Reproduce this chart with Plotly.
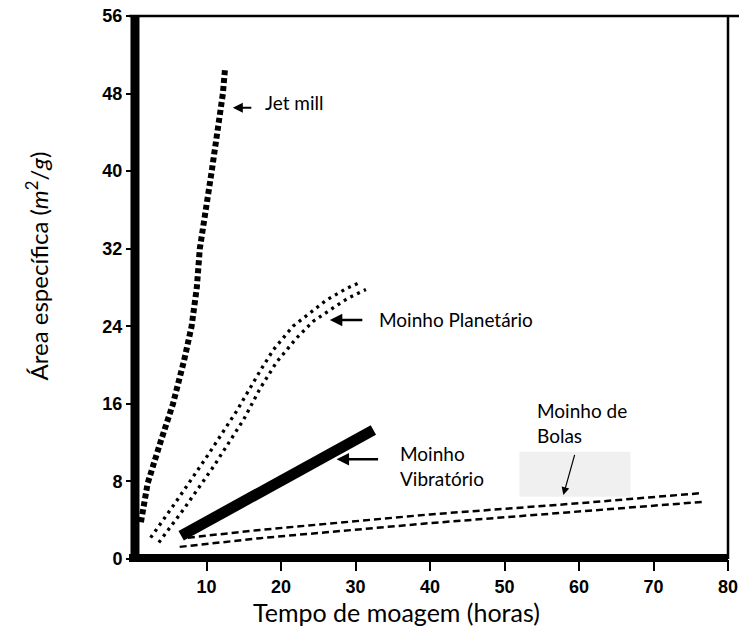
import plotly.graph_objects as go

# ---- data ----
jet_x = [1.2, 2.1, 3.8, 5.5, 7.0, 8.0, 8.7, 9.1, 10.7, 12.2, 12.5]
jet_y = [3.8, 7.8, 12.0, 16.0, 20.5, 24.0, 28.0, 32.0, 40.0, 48.0, 50.7]

plan1_x = [2.5, 6.0, 10.0, 14.0, 17.2, 19.0, 21.6, 23.9, 26.1, 28.8, 30.8]
plan1_y = [2.2, 6.0, 10.5, 15.2, 19.4, 21.6, 24.0, 25.4, 26.7, 27.9, 28.6]
plan2_x = [3.6, 7.0, 11.0, 15.0, 17.2, 19.4, 22.1, 24.3, 27.0, 29.0, 31.4]
plan2_y = [1.7, 5.2, 9.6, 14.4, 17.6, 20.3, 22.8, 24.5, 25.9, 26.9, 27.8]

vib_x = [6.6, 32.4]
vib_y = [2.4, 13.3]

ball1_x = [7.5, 17.2, 40.0, 60.0, 76.5]
ball1_y = [2.2, 3.0, 4.6, 5.75, 6.8]
ball2_x = [6.4, 17.2, 40.0, 60.0, 76.7]
ball2_y = [1.25, 2.15, 3.7, 4.9, 5.9]

x_ticks = [10, 20, 30, 40, 50, 60, 70, 80]
y_ticks = [0, 8, 16, 24, 32, 40, 48, 56]

x_title = "Tempo de moagem (horas)"
y_title = "Área específica (<i>m</i><sup>2</sup>/<i>g</i>)"

fig = go.Figure()

def add_line(x, y, width, dash):
    fig.add_trace(go.Scatter(x=x, y=y, mode="lines",
                             line=dict(color="black", width=width, dash=dash),
                             showlegend=False, hoverinfo="skip"))

add_line(ball1_x, ball1_y, 2.5, "7px,4px")
add_line(ball2_x, ball2_y, 2.5, "7px,4px")
add_line(plan1_x, plan1_y, 3.3, "3px,4.5px")
add_line(plan2_x, plan2_y, 3.3, "3px,4.5px")
add_line(vib_x, vib_y, 11, "solid")
add_line(jet_x, jet_y, 6, "5px,3px")

ann_font = dict(family="Lato", size=19, color="black")
annotations = [
    # arrows
    dict(x=13.53, y=46.54, ax=20, ay=0, text="", showarrow=True,
         arrowhead=2, arrowsize=1, arrowwidth=2, arrowcolor="black"),
    dict(x=26.55, y=24.66, ax=34, ay=0, text="", showarrow=True,
         arrowhead=2, arrowsize=1, arrowwidth=2.5, arrowcolor="black"),
    dict(x=27.46, y=10.29, ax=43, ay=0, text="", showarrow=True,
         arrowhead=2, arrowsize=1, arrowwidth=2.5, arrowcolor="black"),
    dict(x=57.9, y=6.6, ax=11.7, ay=-41.7, text="", showarrow=True,
         arrowhead=2, arrowsize=1.3, arrowwidth=1.2, arrowcolor="black"),
    # labels
    dict(x=17.56, y=47.06, text="Jet mill", showarrow=False,
         xanchor="left", yanchor="middle", font=ann_font),
    dict(x=32.84, y=24.66, text="Moinho Planetário", showarrow=False,
         xanchor="left", yanchor="middle", font=ann_font),
    dict(x=35.74, y=9.62, text="Moinho<br>Vibratório", showarrow=False,
         xanchor="left", yanchor="middle", align="left", font=ann_font),
    dict(x=54.1, y=14.05, text="Moinho de<br>Bolas", showarrow=False,
         xanchor="left", yanchor="middle", align="left", font=ann_font),
    # axis titles
    dict(xref="paper", yref="paper", x=0.4446, y=-0.097, text=x_title,
         showarrow=False, xanchor="center", yanchor="middle",
         font=dict(family="Lato", size=25, color="black")),
    dict(xref="paper", yref="paper", x=-0.160, y=0.54, text=y_title,
         showarrow=False, xanchor="center", yanchor="middle", textangle=-90,
         font=dict(family="Lato", size=24, color="black")),
]

shapes = [
    # grey box behind the ball mill label arrow
    dict(type="rect", xref="x", yref="y", x0=52.0, x1=66.9, y0=6.43, y1=11.07,
         fillcolor="#f0f0f0", line=dict(width=0), layer="below"),
    # frame
    dict(type="line", xref="paper", yref="paper", x0=0.005, x1=0.005, y0=-0.005, y1=1.0,
         line=dict(color="black", width=9)),
    dict(type="line", xref="paper", yref="paper", x0=-0.005, x1=1.0, y0=0.002, y1=0.002,
         line=dict(color="black", width=8)),
    dict(type="line", xref="paper", yref="paper", x0=-0.005, x1=1.02, y0=1.0, y1=1.0,
         line=dict(color="black", width=2.5)),
    dict(type="line", xref="paper", yref="paper", x0=1.0, x1=1.0, y0=0.0, y1=1.0,
         line=dict(color="black", width=2.5)),
]

tick_font = dict(family="Liberation Sans", size=18, color="black", weight="bold")

fig.update_layout(
    width=739, height=628,
    margin=dict(l=132, r=11, t=16, b=69, autoexpand=False),
    paper_bgcolor="white", plot_bgcolor="white",
    annotations=annotations, shapes=shapes,
    xaxis=dict(range=[0, 80], tickvals=x_ticks, ticktext=[str(v) for v in x_ticks],
               ticks="outside", ticklen=11, tickwidth=2, tickcolor="black",
               showgrid=False, zeroline=False, showline=False, automargin=False,
               tickfont=tick_font, fixedrange=True),
    yaxis=dict(range=[0, 56], tickvals=y_ticks, ticktext=[str(v) for v in y_ticks],
               ticks="outside", ticklen=5, tickwidth=2, tickcolor="black",
               showgrid=False, zeroline=False, showline=False, automargin=False,
               tickfont=tick_font, fixedrange=True),
)

fig.write_html("out.html")
